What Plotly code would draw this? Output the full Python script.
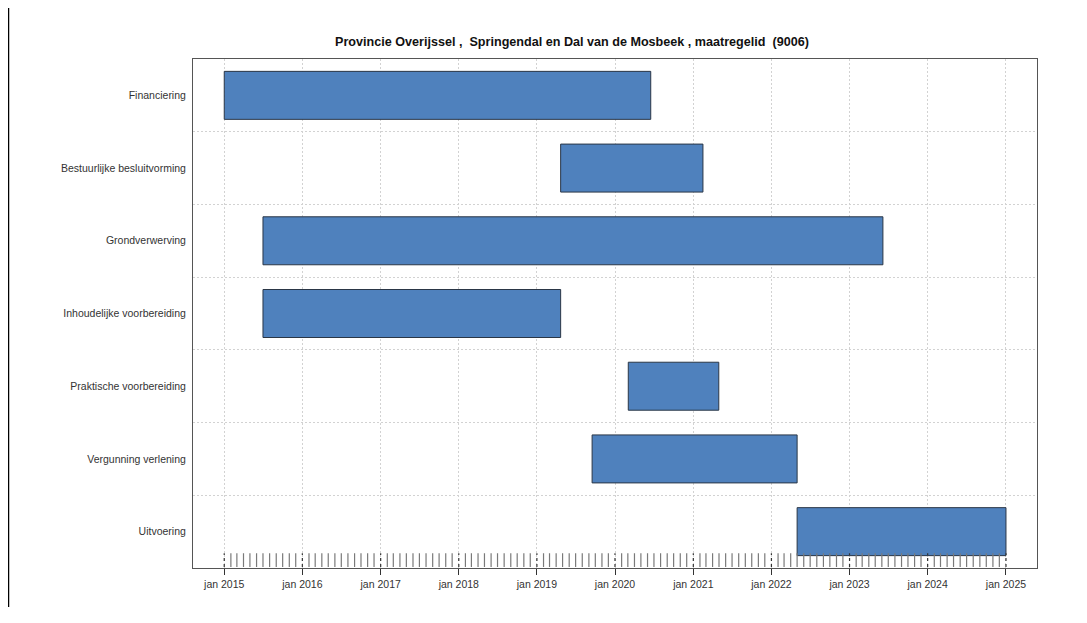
import pandas as pd
import plotly.graph_objects as go

# taken per fase (boven naar beneden)
taken = ["Financiering", "Bestuurlijke besluitvorming", "Grondverwerving",
         "Inhoudelijke voorbereiding", "Praktische voorbereiding",
         "Vergunning verlening", "Uitvoering"]
start = ["2015-01-01", "2019-04-22", "2015-07-01", "2015-07-01",
         "2020-03-03", "2019-09-16", "2022-05-01"]
eind = ["2020-06-16", "2021-02-15", "2023-06-06", "2019-04-22",
        "2021-04-30", "2022-05-01", "2025-01-01"]

jaren = ["2015", "2016", "2017", "2018", "2019", "2020", "2021", "2022", "2023", "2024", "2025"]
jaar_labels = ["jan " + j for j in jaren]

s = pd.to_datetime(start)
e = pd.to_datetime(eind)
duur = [(b - a).total_seconds() * 1000 for a, b in zip(s, e)]

fig = go.Figure()

fig.add_trace(go.Bar(
    y=taken, x=duur, base=start, orientation="h", width=0.66,
    marker=dict(color="#4F81BD", line=dict(color="#2A3646", width=1)),
    showlegend=False, hoverinfo="skip"))

# maand streepjes onderaan (rug)
maanden = pd.date_range("2015-01-01", "2025-01-01", freq="MS")
rx, ry, jx, jy = [], [], [], []
for m in maanden:
    if m.month == 1:
        jx += [m, m, None]
        jy += [0.002, 0.029, None]
    else:
        rx += [m, m, None]
        ry += [0.002, 0.029, None]
fig.add_trace(go.Scatter(x=rx, y=ry, yaxis="y2", mode="lines",
                         line=dict(color="#7a7a7a", width=1.2),
                         showlegend=False, hoverinfo="skip"))
fig.add_trace(go.Scatter(x=jx, y=jy, yaxis="y2", mode="lines",
                         line=dict(color="#333333", width=1.2, dash="dot"),
                         showlegend=False, hoverinfo="skip"))

# pagina heeft 8px body-marge, dus figuur 8px kleiner
W, H = 1079, 615
L, R, T, B = 185, 50, 51, 55

fig.update_layout(
    width=W, height=H,
    margin=dict(l=L, r=R, t=T, b=B, autoexpand=False),
    paper_bgcolor="white", plot_bgcolor="white",
    font=dict(family="Liberation Sans, Arial", size=10.5, color="#333333"),
    title=dict(text="<b>Provincie Overijssel ,  Springendal en Dal van de Mosbeek , maatregelid  (9006)</b>",
               x=(572 - 8) / W, xanchor="center", y=1 - 34 / H, yanchor="middle",
               font=dict(size=12.6, color="#111111")),
    xaxis=dict(type="date", range=["2014-08-08", "2025-05-26"],
               tickvals=[j + "-01-01" for j in jaren], ticktext=jaar_labels,
               ticks="outside", ticklen=6, tickcolor="#333333",
               showgrid=True, gridcolor="#d2d2d2", griddash="2px,2px", gridwidth=1,
               showline=True, linecolor="#555555", mirror=True, zeroline=False),
    yaxis=dict(type="category", autorange="reversed", tickson="boundaries",
               ticks="", showgrid=True, gridcolor="#d2d2d2", griddash="2px,2px",
               showline=True, linecolor="#555555", mirror=True, ticklabelstandoff=4),
    yaxis2=dict(overlaying="y", range=[0, 1], visible=False, fixedrange=True),
)

# kader links
pw = W - L - R
ph = H - T - B
fig.add_shape(type="line", xref="paper", yref="paper",
              x0=-L / pw, x1=-L / pw, y0=1 + T / ph, y1=-(599 - (H - B)) / ph,
              line=dict(color="black", width=2.5))

fig.write_html("out.html")
